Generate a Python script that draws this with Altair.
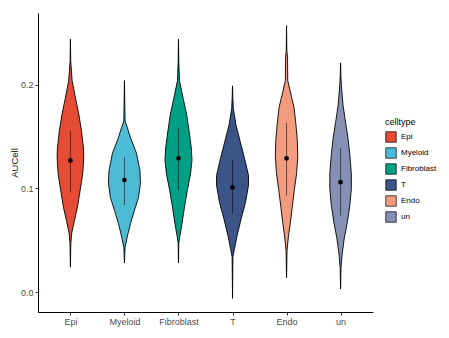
import altair as alt
import pandas as pd

celltypes = ["Epi", "Myeloid", "Fibroblast", "T", "Endo", "un"]
colors = ["#E64B35", "#4DBBD5", "#00A087", "#3C5488", "#F39B7F", "#8491B4"]

# violin outlines: AUCell values and half-widths (density, in px of a 54-px category step)
epi_auc = [0.244, 0.223, 0.204, 0.1875, 0.172, 0.156, 0.139, 0.130, 0.114, 0.098, 0.082, 0.069, 0.057, 0.047, 0.024]
epi_dens = [0, 0.3, 1.7, 5, 8.3, 11, 13, 13.3, 12.3, 9.7, 7, 4, 1.3, 0.4, 0]

mye_auc = [0.204, 0.185, 0.165, 0.159, 0.149, 0.134, 0.117, 0.105, 0.091, 0.079, 0.066, 0.053, 0.043, 0.028]
mye_dens = [0, 0.3, 0.6, 2.8, 6, 12, 15.5, 16, 14, 10, 6, 2.7, 0.6, 0]

fib_auc = [0.244, 0.223, 0.204, 0.1875, 0.172, 0.156, 0.139, 0.127, 0.114, 0.098, 0.082, 0.066, 0.053, 0.047, 0.028]
fib_dens = [0, 0.3, 1, 4.5, 8, 10.5, 12.8, 13.5, 12, 8.8, 6, 3.5, 1.2, 0.3, 0]

t_auc = [0.199, 0.189, 0.177, 0.161, 0.144, 0.129, 0.1125, 0.103, 0.0865, 0.071, 0.055, 0.042, 0.034, -0.006]
t_dens = [0, 0.3, 0.8, 3.5, 8, 12, 16, 16, 13, 8.7, 4.7, 2, 0.4, 0]

endo_auc = [0.257, 0.233, 0.226, 0.204, 0.191, 0.178, 0.1625, 0.146, 0.130, 0.114, 0.098, 0.082, 0.066, 0.053, 0.040, 0.014]
endo_dens = [0, 0.3, 1, 1.2, 4.3, 7.5, 9.3, 10.8, 11.2, 10, 7.7, 5.7, 3.7, 1.8, 0.5, 0]

un_auc = [0.221, 0.209, 0.199, 0.180, 0.1635, 0.148, 0.132, 0.115, 0.100, 0.084, 0.067, 0.052, 0.036, 0.023, 0.003]
un_dens = [0, 0.3, 0.8, 2.5, 5, 7.5, 9.3, 10.7, 10.8, 9.3, 6.7, 3.7, 1.5, 0.4, 0]

means = [0.127, 0.108, 0.129, 0.101, 0.129, 0.106]
lower = [0.096, 0.084, 0.098, 0.076, 0.093, 0.074]
upper = [0.156, 0.130, 0.159, 0.127, 0.163, 0.139]

aucs = [epi_auc, mye_auc, fib_auc, t_auc, endo_auc, un_auc]
denss = [epi_dens, mye_dens, fib_dens, t_dens, endo_dens, un_dens]
DENS_SCALE = 1 / 54.0

rows = []
for i, (ct, auc, dens) in enumerate(zip(celltypes, aucs, denss)):
    pos = i + 1
    for a, d in zip(auc, dens):
        rows.append(dict(celltype=ct, pos=pos, auc=a,
                         lo=pos - d * DENS_SCALE, hi=pos + d * DENS_SCALE))
vdf = pd.DataFrame(rows)

sdf = pd.DataFrame(dict(celltype=celltypes, pos=list(range(1, 7)),
                        mean=means, lower=lower, upper=upper))

label_expr = "[" + ",".join("'%s'" % c for c in celltypes) + "][datum.value - 1]"

xscale = alt.Scale(domain=[0.4, 6.6], nice=False, zero=False)
yscale = alt.Scale(domain=[-0.0192, 0.2692], nice=False, zero=False)

xaxis = alt.Axis(values=[1, 2, 3, 4, 5, 6], labelExpr=label_expr, title=None,
                 grid=False, labelPadding=2)
yaxis = alt.Axis(values=[0, 0.1, 0.2], format=".1f", title="AUCell", grid=False,
                 titlePadding=1)

violin = alt.Chart(vdf).mark_area(orient="horizontal", stroke="black",
                                  strokeWidth=0.9, opacity=1).encode(
    y=alt.Y("auc:Q", scale=yscale, axis=yaxis),
    x=alt.X("lo:Q", scale=xscale, axis=xaxis),
    x2="hi:Q",
    fill=alt.Fill("celltype:N", scale=alt.Scale(domain=celltypes, range=colors),
                  legend=alt.Legend(title="celltype", symbolType="square",
                                    symbolStrokeColor="black", symbolStrokeWidth=0.7,
                                    symbolSize=110, orient="none",
                                    legendX=347, legendY=105)),
    detail="celltype:N",
)

rng = alt.Chart(sdf).mark_rule(color="black", opacity=0.55, strokeWidth=1).encode(
    x=alt.X("pos:Q", scale=xscale),
    y=alt.Y("lower:Q", scale=yscale),
    y2="upper:Q",
)

pts = alt.Chart(sdf).mark_circle(color="black", size=22, opacity=1).encode(
    x=alt.X("pos:Q", scale=xscale),
    y=alt.Y("mean:Q", scale=yscale),
)

chart = (violin + rng + pts).properties(
    width=335, height=299,
    autosize=alt.AutoSizeParams(type="none"),
    padding={"left": 38, "top": 13, "right": 76, "bottom": 26},
).configure_view(stroke=None).configure_axis(
    domainColor="black", domainWidth=1, tickColor="#333333", tickSize=3,
    labelColor="#4D4D4D", labelFontSize=9, labelFont="Liberation Sans",
    titleFont="Liberation Sans", titleFontSize=9.5, titleFontWeight="normal",
    titleColor="#1a1a1a",
).configure_legend(
    titleFont="Liberation Sans", titleFontSize=9, titleFontWeight="normal",
    labelFont="Liberation Sans", labelFontSize=8, labelColor="black",
    rowPadding=2, titlePadding=4,
)

chart.save("out.html", embed_options={"renderer": "svg", "actions": False})
